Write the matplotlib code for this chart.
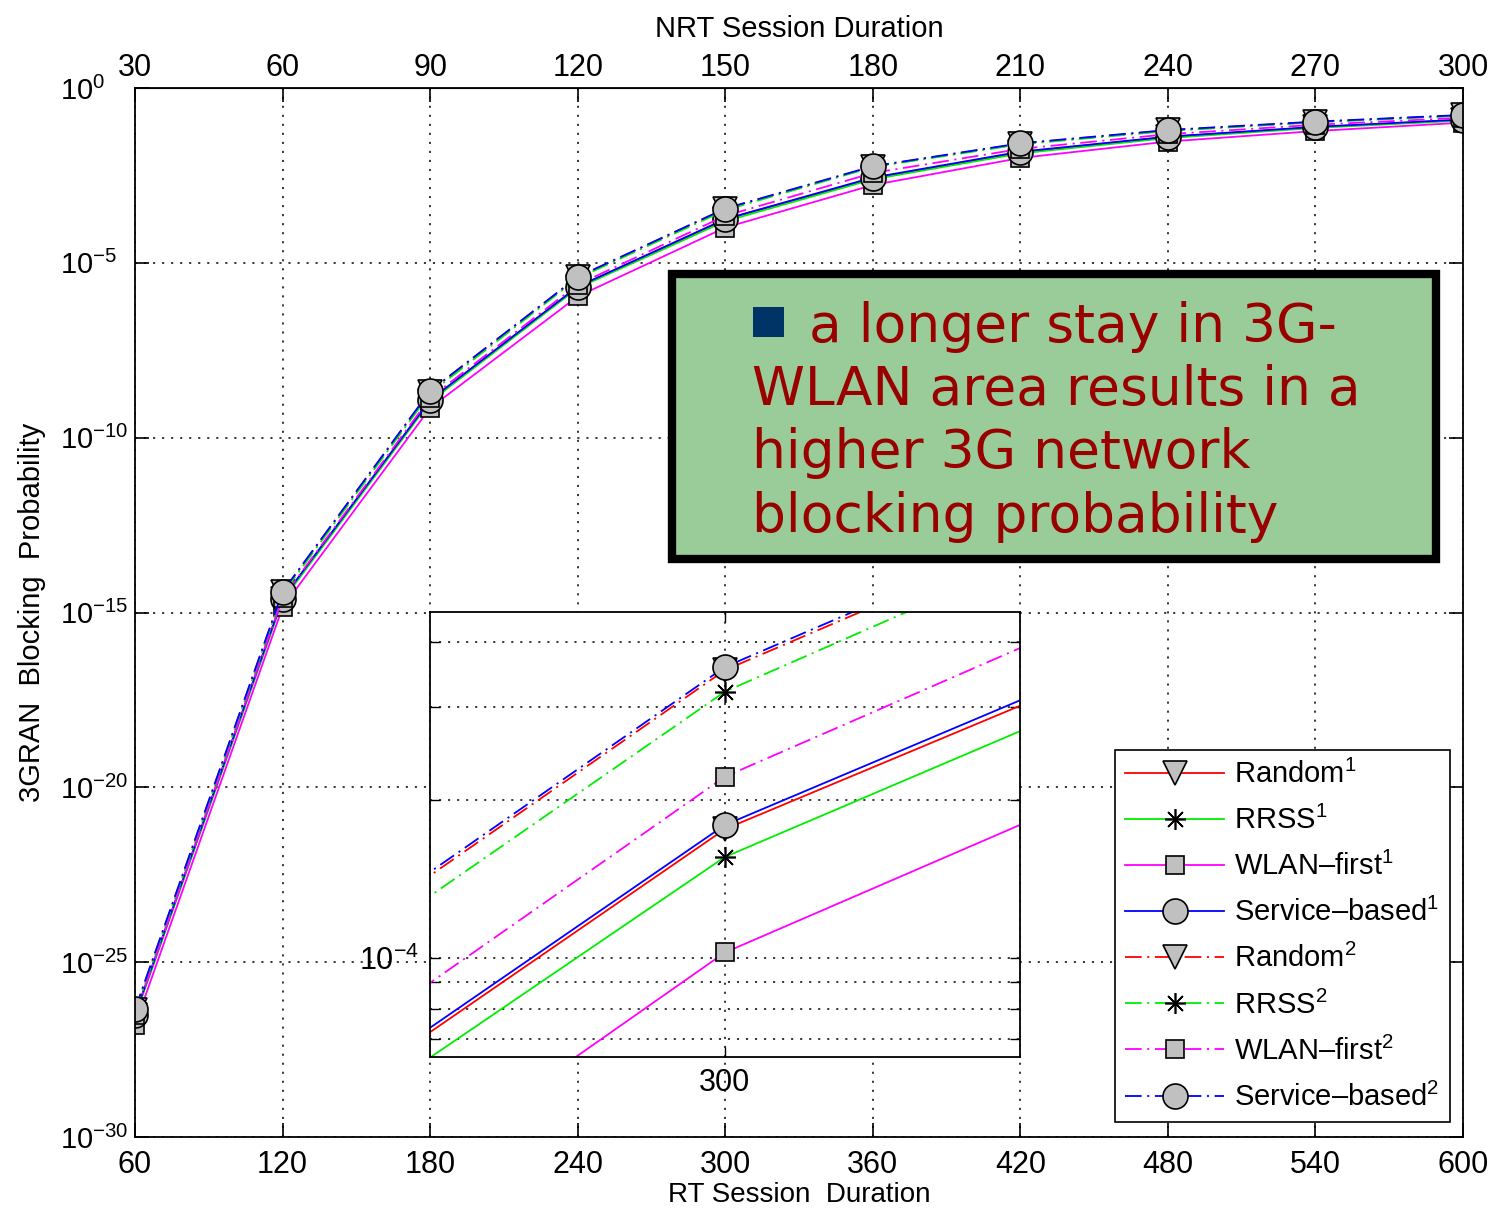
import matplotlib
matplotlib.use("Agg")
import matplotlib.pyplot as plt
from matplotlib.ticker import NullLocator, NullFormatter, FixedLocator
from matplotlib.patches import Rectangle
import numpy as np

plt.rcParams['font.family'] = ['Liberation Sans', 'DejaVu Sans']
plt.rcParams['mathtext.fontset'] = 'custom'
plt.rcParams['mathtext.rm'] = 'Liberation Sans'
plt.rcParams['mathtext.it'] = 'Liberation Sans:italic'
plt.rcParams['mathtext.bf'] = 'Liberation Sans:bold'
plt.rcParams['lines.scale_dashes'] = False

# RT session duration (bottom axis) and NRT session duration (top axis)
rt_duration = [60, 120, 180, 240, 300, 360, 420, 480, 540, 600]
nrt_ticks = [30, 60, 90, 120, 150, 180, 210, 240, 270, 300]

# blocking probability, stored as log10 values
random1_exp = [-26.52, -14.62, -8.94, -5.69, -3.755, -2.58, -1.84, -1.40, -1.12, -0.91]
rrss1_exp = [-26.56, -14.66, -8.97, -5.72, -3.808, -2.61, -1.87, -1.43, -1.14, -0.93]
wlan1_exp = [-26.80, -14.85, -9.15, -5.96, -3.990, -2.775, -2.00, -1.53, -1.23, -0.99]
service1_exp = [-26.50, -14.60, -8.92, -5.68, -3.747, -2.56, -1.82, -1.39, -1.11, -0.90]
random2_exp = [-26.37, -14.42, -8.68, -5.41, -3.452, -2.245, -1.59, -1.21, -0.97, -0.78]
rrss2_exp = [-26.42, -14.47, -8.73, -5.44, -3.493, -2.26, -1.61, -1.23, -0.98, -0.79]
wlan2_exp = [-26.52, -14.58, -8.86, -5.62, -3.655, -2.43, -1.74, -1.32, -1.05, -0.85]
service2_exp = [-26.35, -14.40, -8.66, -5.40, -3.446, -2.235, -1.58, -1.20, -0.96, -0.77]

labels = ["Random$^1$", "RRSS$^1$", "WLAN\u2013first$^1$", "Service\u2013based$^1$",
          "Random$^2$", "RRSS$^2$", "WLAN\u2013first$^2$", "Service\u2013based$^2$"]
series = [random1_exp, rrss1_exp, wlan1_exp, service1_exp,
          random2_exp, rrss2_exp, wlan2_exp, service2_exp]

colors = ['#ff0000', '#00ee00', '#ff00ff', '#0000ff'] * 2
markers = ['v', (8, 2, 0), 's', 'o'] * 2
msizes = [17, 15, 13, 18] * 2
dashdot = (0, (12, 4, 1.5, 4))
styles = ['-'] * 4 + [dashdot] * 4

box_text = ["a longer stay in 3G-", "WLAN area results in a",
            "higher 3G network", "blocking probability"]

fig = plt.figure(figsize=(14.97, 12.11), dpi=100)
ax = fig.add_axes([0.0902, 0.0611, 0.8871, 0.8662])


def draw_series(a):
    for vals, lab, c, m, ms, ls in zip(series, labels, colors, markers, msizes, styles):
        a.plot(rt_duration, 10.0 ** np.array(vals), color=c, linestyle=ls, linewidth=1.3,
               marker=m, markersize=ms, markerfacecolor='#c0c0c0', markeredgecolor='black',
               markeredgewidth=1.2, label=lab)


grid_style = dict(linestyle=(0, (1.5, 5)), color='black', linewidth=1.1)

draw_series(ax)
ax.set_yscale('log')
ax.set_xlim(60, 600)
ax.set_ylim(1e-30, 1e0)
ax.set_xticks(rt_duration)
ax.set_yticks([10.0 ** k for k in range(0, -31, -5)])
ax.yaxis.set_minor_locator(NullLocator())
ax.grid(True, **grid_style)
ax.tick_params(direction='in', length=10, width=1.2, right=True)
ax.tick_params(axis='x', pad=9, labelsize=22)
ax.tick_params(axis='y', pad=54, labelsize=21)
for lbl in ax.get_yticklabels():
    lbl.set_horizontalalignment('left')
for s in ax.spines.values():
    s.set_linewidth(1.3)
ax.set_xlabel("RT Session  Duration", fontsize=20, labelpad=2)
ax.set_ylabel("3GRAN  Blocking  Probability", fontsize=21, labelpad=10)

top = ax.secondary_xaxis('top', functions=(lambda v: v / 2.0, lambda v: v * 2.0))
top.set_xticks(nrt_ticks)
top.tick_params(direction='in', length=10, width=1.2, labelsize=22, pad=3.5)
top.set_xlabel("NRT Session Duration", fontsize=21, labelpad=12)

leg = ax.legend(loc='lower right', bbox_to_anchor=(0.990, 0.0143), borderaxespad=0,
                fontsize=21, handlelength=3.4, handletextpad=0.35, borderpad=0.35,
                labelspacing=0.58, numpoints=1, fancybox=False, framealpha=1)
leg.get_frame().set_edgecolor('black')
leg.get_frame().set_linewidth(1.2)

# zoomed inset around RT = 300
ins = fig.add_axes([0.2872, 0.1272, 0.3941, 0.3675])
draw_series(ins)
ins.set_yscale('log')
ins.set_xlim(288, 312)
ins.set_ylim(6.47e-5, 4.56e-4)
ins.set_xticks([300])
ins.yaxis.set_major_locator(FixedLocator([1e-4]))
ins.yaxis.set_minor_locator(FixedLocator([7e-5, 8e-5, 9e-5, 2e-4, 3e-4, 4e-4]))
ins.yaxis.set_minor_formatter(NullFormatter())
ins.grid(True, which='both', **grid_style)
ins.tick_params(which='both', direction='in', length=7, width=1.0, labelsize=22,
                right=True, top=True, pad=8)
for s in ins.spines.values():
    s.set_linewidth(1.3)

# callout box
fig.patches.append(Rectangle((0.4489, 0.5384), 0.5104, 0.2353, transform=fig.transFigure,
                             facecolor='#99cc99', edgecolor='black', linewidth=6, zorder=5))
fig.patches.append(Rectangle((0.503, 0.7217), 0.0207, 0.0248, transform=fig.transFigure,
                             facecolor='#003366', edgecolor='none', zorder=6))
line_x = [0.5404, 0.5023, 0.5023, 0.5023]
line_y = [0.7176, 0.6656, 0.6135, 0.5607]
for t, lx, ly in zip(box_text, line_x, line_y):
    fig.text(lx, ly, t, fontsize=38.5, color='#990000', family='DejaVu Sans',
             va='baseline', ha='left', zorder=7)

fig.savefig("out.png", dpi=100)
